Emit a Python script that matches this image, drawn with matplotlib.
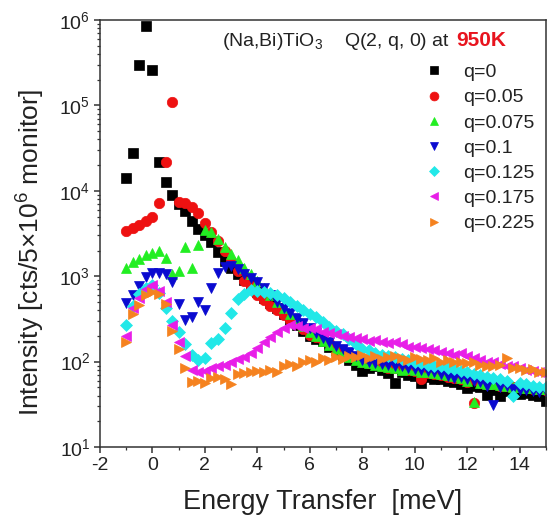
import matplotlib.pyplot as plt
from matplotlib.ticker import MultipleLocator, LogLocator, NullFormatter

plt.rcParams['font.family'] = ['Liberation Sans', 'DejaVu Sans']
plt.rcParams['mathtext.fontset'] = 'custom'
plt.rcParams['mathtext.rm'] = 'Liberation Sans'
plt.rcParams['mathtext.it'] = 'Liberation Sans:italic'
plt.rcParams['mathtext.bf'] = 'Liberation Sans:bold'
plt.rcParams['axes.unicode_minus'] = False

# energy transfer grid [meV]
energy = [-1.0, -0.75, -0.5, -0.25, 0.0, 0.25, 0.5, 0.75,
          1.0, 1.25, 1.5, 1.75, 2.0, 2.25, 2.5, 2.75,
          3.0, 3.25, 3.5, 3.75, 4.0, 4.25, 4.5, 4.75,
          5.0, 5.25, 5.5, 5.75, 6.0, 6.25, 6.5, 6.75,
          7.0, 7.25, 7.5, 7.75, 8.0, 8.25, 8.5, 8.75,
          9.0, 9.25, 9.5, 9.75, 10.0, 10.25, 10.5, 10.75,
          11.0, 11.25, 11.5, 11.75, 12.0, 12.25, 12.5, 12.75,
          13.0, 13.25, 13.5, 13.75, 14.0, 14.25, 14.5, 14.75,
          15.0]

q0 = [14000, 28000, 300000, 850000, 260000, 22000, 12600, 8900,
      7000, 5800, 4400, 3600, 3000, 2500, 1900, 1500,
      1250, 1050, 900, 780, 650, 560, 480, 420,
      360, 310, 265, 230, 200, 185, 175, 150,
      135, 120, 105, 92, 77, 84, 88, 80,
      74, 56, 75, 70, 68, 56, 66, 63,
      62, 60, 57, 55, 49, 52, 50, 41,
      47, 40, 45, 44, 42, 43, 41, 40,
      35]

q005 = [3400, 3700, 4000, 4400, 5000, 7200, 22000, 110000,
        7300, 7200, 6500, 5500, 4200, 3300, 2600, 2000,
        1500, 1150, 880, 760, 600, 520, 450, 400,
        350, 310, 290, 240, 205, 195, 180, 165,
        145, 130, 120, 110, 100, 97, 95, 88,
        85, 84, 82, 80, 78, 62, 74, 72,
        70, 66, 64, 62, 58, 33, 56, 55,
        54, 52, 52, 50, 50, 49, 48, 48,
        47]

q0075 = [1250, 1450, 1600, 1750, 1850, 2000, 1650, 1050,
         1150, 2200, 1250, 2350, 3500, 3300, 2700, 2200,
         1800, 1550, 1250, 1050, 870, 720, 600, 500,
         420, 360, 300, 260, 225, 200, 175, 155,
         140, 125, 112, 105, 100, 96, 92, 88,
         86, 84, 80, 82, 80, 76, 75, 73,
         72, 70, 68, 64, 60, 34, 56, 55,
         55, 53, 52, 51, 50, 49, 49, 48,
         48]

q01 = [480, 600, 760, 980, 1080, 1100, 1050, 850,
       470, 310, 330, 500, 400, 720, 1100, 1280,
       1300, 1200, 1050, 950, 850, 720, 600, 500,
       430, 370, 320, 280, 245, 215, 190, 170,
       152, 140, 128, 115, 105, 100, 96, 94,
       92, 88, 90, 85, 82, 80, 78, 75,
       72, 68, 65, 66, 62, 60, 57, 52,
       31, 50, 52, 48, 47, 46, 45, 44,
       45]

q0125 = [270, 450, 620, 720, 780, 640, 420, 300,
         220, 160, 120, 105, 110, 165, 185, 250,
         370, 540, 620, 690, 680, 660, 640, 600,
         560, 500, 450, 400, 360, 330, 290, 255,
         230, 210, 185, 160, 142, 135, 125, 120,
         115, 112, 108, 104, 100, 96, 92, 90,
         88, 85, 82, 78, 75, 72, 70, 66,
         64, 62, 60, 40, 56, 54, 52, 51,
         50]

q0175 = [200, 420, 560, 700, 780, 680, 500, 270,
         170, 115, 80, 75, 78, 85, 90, 92,
         100, 108, 112, 125, 145, 170, 195, 225,
         245, 265, 260, 250, 245, 240, 225, 215,
         210, 200, 195, 190, 185, 175, 180, 170,
         165, 170, 160, 150, 150, 145, 140, 135,
         130, 125, 120, 125, 115, 110, 105, 100,
         98, 95, 90, 88, 85, 80, 78, 75,
         72]

q0225 = [170, 360, 460, 600, 650, 620, 470, 230,
         140, 85, 58, 60, 56, 64, 66, 62,
         55, 72, 74, 76, 78, 75, 80, 76,
         88, 95, 90, 100, 105, 98, 110, 105,
         112, 108, 115, 112, 118, 110, 115, 108,
         112, 115, 110, 105, 112, 108, 104, 110,
         100, 104, 98, 100, 96, 98, 92, 90,
         88, 92, 110, 85, 84, 80, 82, 76,
         75]

labels = ['q=0', 'q=0.05', 'q=0.075', 'q=0.1', 'q=0.125', 'q=0.175', 'q=0.225']
series = [q0, q005, q0075, q01, q0125, q0175, q0225]
markers = ['s', 'o', '^', 'v', 'D', '<', '>']
colors = ['#000000', '#ee1111', '#22ee22', '#0a0ad0', '#22e8e8', '#e81ee8', '#f5821f']
sizes = [6.5, 7.5, 7.5, 7.5, 6, 7.5, 7.5]

fig = plt.figure(figsize=(5.57, 5.27), dpi=100)
ax = fig.add_axes([0.1795, 0.1518, 0.8005, 0.8102])

for vals, lab, m, c, s in zip(series, labels, markers, colors, sizes):
    ax.plot(energy, vals, linestyle='none', marker=m, ms=s, color=c,
            mec=c, mew=0.5, label=lab)

ax.set_yscale('log')
ax.set_xlim(-2, 15)
ax.set_ylim(10, 1e6)
ax.set_xticks(range(-2, 15, 2))
ax.xaxis.set_minor_locator(MultipleLocator(1))
ax.yaxis.set_major_locator(LogLocator(base=10, numticks=10))
ax.yaxis.set_minor_locator(LogLocator(base=10, subs=range(2, 10), numticks=20))
ax.yaxis.set_minor_formatter(NullFormatter())

txt = '#222222'
for sp in ax.spines.values():
    sp.set_linewidth(1.1)
    sp.set_color('#333333')
ax.tick_params(which='major', direction='out', length=4, width=1.1,
               labelsize=14, colors='#333333', labelcolor=txt, pad=3)
ax.tick_params(which='minor', direction='out', length=2.3, width=0.9,
               colors='#333333')

ax.set_xlabel('Energy Transfer  [meV]', fontsize=19.5, color=txt, labelpad=11)
ax.set_ylabel('Intensity [cts/5×10$^6$ monitor]', fontsize=19, color=txt)
ax.yaxis.set_label_coords(-0.118, 0.457)

t1 = ax.text(0.274, 0.938, '(Na,Bi)TiO$_3$    Q(2, q, 0) at', transform=ax.transAxes,
             fontsize=14, color=txt, va='baseline', ha='left')
fig.canvas.draw()
bb = t1.get_window_extent()
x_end = ax.transAxes.inverted().transform((bb.x1 + 6, bb.y0))[0]
ax.text(x_end, 0.938, '950K', transform=ax.transAxes, fontsize=15,
        color='#e8141e', fontweight='bold', va='baseline', ha='left')

ax.legend(loc='upper left', bbox_to_anchor=(0.7265, 0.898), frameon=False,
          fontsize=14, labelspacing=0.39, handlelength=1.0, handletextpad=1.0,
          borderpad=0, borderaxespad=0, numpoints=1, markerscale=0.85,
          labelcolor=txt)

fig.savefig('out.png', dpi=100)
